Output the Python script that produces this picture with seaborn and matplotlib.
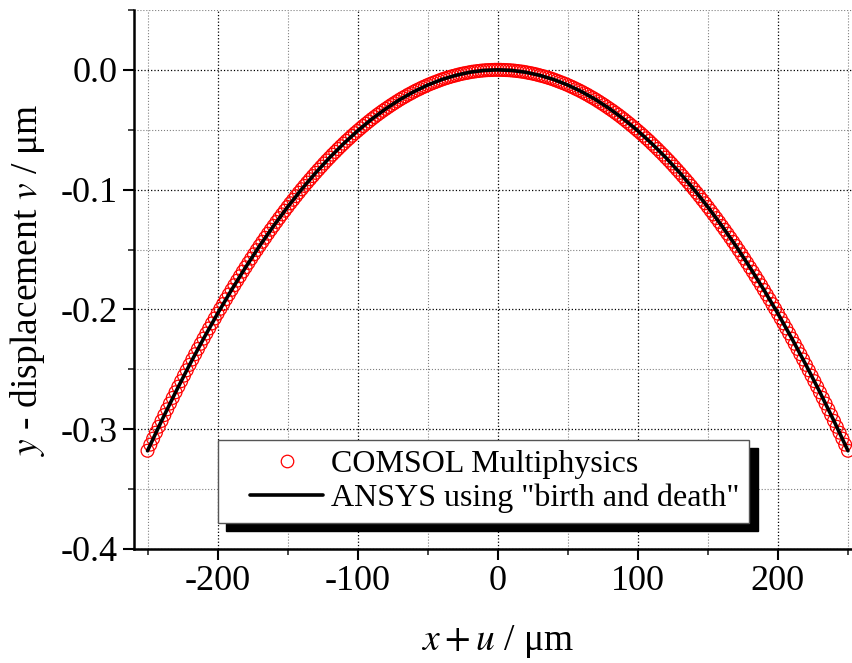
"""
y-displacement along the beam: COMSOL vs ANSYS (birth and death)
"""
import numpy as np
import matplotlib.pyplot as plt
import seaborn as sns
from matplotlib.ticker import MultipleLocator
from matplotlib.lines import Line2D
from matplotlib.legend_handler import HandlerLine2D

# COMSOL points, x + u from -250 to 250 um (step 2)
x_comsol = np.arange(-250, 251, 2)
v_comsol = [
    -0.3180, -0.3129, -0.3079, -0.3029, -0.2980, -0.2931, -0.2882, -0.2834, -0.2786, -0.2739,
    -0.2692, -0.2645, -0.2599, -0.2553, -0.2508, -0.2463, -0.2418, -0.2374, -0.2330, -0.2287,
    -0.2244, -0.2201, -0.2159, -0.2117, -0.2076, -0.2035, -0.1995, -0.1955, -0.1915, -0.1876,
    -0.1837, -0.1798, -0.1760, -0.1723, -0.1685, -0.1649, -0.1612, -0.1576, -0.1540, -0.1505,
    -0.1470, -0.1436, -0.1402, -0.1368, -0.1335, -0.1303, -0.1270, -0.1238, -0.1207, -0.1176,
    -0.1145, -0.1114, -0.1085, -0.1055, -0.1026, -0.0997, -0.0969, -0.0941, -0.0914, -0.0887,
    -0.0860, -0.0834, -0.0808, -0.0782, -0.0757, -0.0733, -0.0708, -0.0685, -0.0661, -0.0638,
    -0.0616, -0.0593, -0.0572, -0.0550, -0.0529, -0.0509, -0.0489, -0.0469, -0.0450, -0.0431,
    -0.0412, -0.0394, -0.0376, -0.0359, -0.0342, -0.0326, -0.0310, -0.0294, -0.0279, -0.0264,
    -0.0249, -0.0235, -0.0222, -0.0208, -0.0196, -0.0183, -0.0171, -0.0160, -0.0148, -0.0138,
    -0.0127, -0.0117, -0.0108, -0.0099, -0.0090, -0.0081, -0.0073, -0.0066, -0.0059, -0.0052,
    -0.0046, -0.0040, -0.0034, -0.0029, -0.0025, -0.0020, -0.0016, -0.0013, -0.0010, -0.0007,
    -0.0005, -0.0003, -0.0002, -0.0001, 0.0000,
    0.0000,
    0.0000, -0.0001, -0.0002, -0.0003, -0.0005,
    -0.0007, -0.0010, -0.0013, -0.0016, -0.0020, -0.0025, -0.0029, -0.0034, -0.0040, -0.0046,
    -0.0052, -0.0059, -0.0066, -0.0073, -0.0081, -0.0090, -0.0099, -0.0108, -0.0117, -0.0127,
    -0.0138, -0.0148, -0.0160, -0.0171, -0.0183, -0.0196, -0.0208, -0.0222, -0.0235, -0.0249,
    -0.0264, -0.0279, -0.0294, -0.0310, -0.0326, -0.0342, -0.0359, -0.0376, -0.0394, -0.0412,
    -0.0431, -0.0450, -0.0469, -0.0489, -0.0509, -0.0529, -0.0550, -0.0572, -0.0593, -0.0616,
    -0.0638, -0.0661, -0.0685, -0.0708, -0.0733, -0.0757, -0.0782, -0.0808, -0.0834, -0.0860,
    -0.0887, -0.0914, -0.0941, -0.0969, -0.0997, -0.1026, -0.1055, -0.1085, -0.1114, -0.1145,
    -0.1176, -0.1207, -0.1238, -0.1270, -0.1303, -0.1335, -0.1368, -0.1402, -0.1436, -0.1470,
    -0.1505, -0.1540, -0.1576, -0.1612, -0.1649, -0.1685, -0.1723, -0.1760, -0.1798, -0.1837,
    -0.1876, -0.1915, -0.1955, -0.1995, -0.2035, -0.2076, -0.2117, -0.2159, -0.2201, -0.2244,
    -0.2287, -0.2330, -0.2374, -0.2418, -0.2463, -0.2508, -0.2553, -0.2599, -0.2645, -0.2692,
    -0.2739, -0.2786, -0.2834, -0.2882, -0.2931, -0.2980, -0.3029, -0.3079, -0.3129, -0.3180,
]

# ANSYS curve (step 10)
x_ansys = np.arange(-250, 251, 10)
v_ansys = [
    -0.3180, -0.2931, -0.2692, -0.2463, -0.2244, -0.2035, -0.1837, -0.1649, -0.1470, -0.1303,
    -0.1145, -0.0997, -0.0860, -0.0733, -0.0616, -0.0509, -0.0412, -0.0326, -0.0249, -0.0183,
    -0.0127, -0.0081, -0.0046, -0.0020, -0.0005, 0.0000,
    -0.0005, -0.0020, -0.0046, -0.0081, -0.0127, -0.0183, -0.0249, -0.0326, -0.0412, -0.0509,
    -0.0616, -0.0733, -0.0860, -0.0997, -0.1145, -0.1303, -0.1470, -0.1649, -0.1837, -0.2035,
    -0.2244, -0.2463, -0.2692, -0.2931, -0.3180,
]

labels = ['COMSOL Multiphysics', 'ANSYS using "birth and death"']

sns.set_style('ticks')
plt.rcParams['font.family'] = ['Liberation Serif', 'DejaVu Serif']
plt.rcParams['mathtext.fontset'] = 'stix'
plt.rcParams['axes.unicode_minus'] = False
plt.rcParams['text.color'] = 'black'
plt.rcParams['axes.labelcolor'] = 'black'

fig = plt.figure(figsize=(8.52, 6.63), dpi=100)
ax = fig.add_axes([0.1567, 0.172, 0.855, 0.813])

sns.scatterplot(x=x_comsol, y=v_comsol, ax=ax, marker='o', s=85,
                facecolor='none', edgecolor='red', linewidth=0.9, zorder=3)
sns.lineplot(x=x_ansys, y=v_ansys, ax=ax, color='black', linewidth=2.6,
             sort=False, estimator=None, zorder=4)

ax.set_xlim(-260, 260)
ax.set_ylim(-0.4, 0.05)
ax.xaxis.set_major_locator(MultipleLocator(100))
ax.xaxis.set_minor_locator(MultipleLocator(50))
ax.yaxis.set_major_locator(MultipleLocator(0.1))
ax.yaxis.set_minor_locator(MultipleLocator(0.05))

ax.grid(which='major', linestyle=':', color='black', linewidth=0.9)
ax.grid(which='minor', linestyle=':', color='gray', linewidth=0.8)
ax.set_axisbelow(True)

for side in ['top', 'right']:
    ax.spines[side].set_visible(False)
for side in ['left', 'bottom']:
    ax.spines[side].set_linewidth(1.8)
    ax.spines[side].set_color('black')

ax.tick_params(which='major', direction='out', length=8, width=1.5,
               labelsize=26, colors='black')
ax.tick_params(which='minor', direction='out', length=4, width=1.2)

ax.set_xlabel(r'$x + u$ / μm', fontsize=27, labelpad=18)
ax.set_ylabel(r'$y$ - displacement $v$ / μm', fontsize=27, labelpad=10)

handles = [
    Line2D([], [], marker='o', linestyle='none', markerfacecolor='none',
           markeredgecolor='red', markersize=9, markeredgewidth=0.9),
    Line2D([], [], color='black', linewidth=2.6),
]
leg = ax.legend(handles, labels, loc='upper left', bbox_to_anchor=(0.116, 0.202),
                borderaxespad=0, fontsize=23, frameon=True, fancybox=False,
                framealpha=1, edgecolor='#555555', handlelength=3.0,
                handletextpad=0.25, borderpad=0.3, labelspacing=0.15,
                handler_map={Line2D: HandlerLine2D(xpad=0.7)},
                shadow={'ox': 6, 'oy': -6, 'color': 'black', 'alpha': 1})
leg.get_frame().set_linewidth(1.0)

fig.savefig('out.png', dpi=100)
